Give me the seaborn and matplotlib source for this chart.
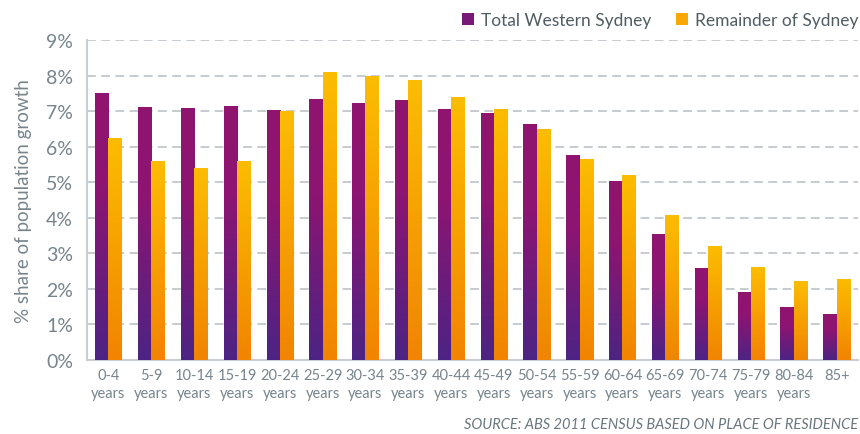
import matplotlib.pyplot as plt
import matplotlib.colors as mcolors
import numpy as np
import pandas as pd
import seaborn as sns
from matplotlib.patches import Patch

AGE_GROUPS = [
    "0-4\nyears", "5-9\nyears", "10-14\nyears", "15-19\nyears", "20-24\nyears",
    "25-29\nyears", "30-34\nyears", "35-39\nyears", "40-44\nyears", "45-49\nyears",
    "50-54\nyears", "55-59\nyears", "60-64\nyears", "65-69\nyears", "70-74\nyears",
    "75-79\nyears", "80-84\nyears", "85+",
]
WESTERN = [7.51, 7.12, 7.09, 7.15, 7.04, 7.35, 7.23, 7.32, 7.06, 6.95,
           6.64, 5.76, 5.03, 3.55, 2.60, 1.92, 1.49, 1.30]
REMAINDER = [6.25, 5.61, 5.41, 5.61, 6.99, 8.10, 7.99, 7.88, 7.40, 7.06,
             6.50, 5.65, 5.20, 4.08, 3.22, 2.62, 2.23, 2.28]
SERIES = ["Total Western Sydney", "Remainder of Sydney"]
Y_TICKS = list(range(0, 10))

GREY_TEXT = "#77848b"
AXIS_GREY = "#c9ced3"

# bottom -> top colour stops for each series
PURPLE_CMAP = mcolors.LinearSegmentedColormap.from_list(
    "purple_grad", [(0.0, "#4c2484"), (0.65, "#8e1472"), (1.0, "#901470")]
)
ORANGE_CMAP = mcolors.LinearSegmentedColormap.from_list(
    "orange_grad", [(0.0, "#f18400"), (1.0, "#fcbd00")]
)

df = pd.DataFrame({
    "age": AGE_GROUPS * 2,
    "share": WESTERN + REMAINDER,
    "series": [SERIES[0]] * len(AGE_GROUPS) + [SERIES[1]] * len(AGE_GROUPS),
})

sns.set_theme(style="white")
plt.rcParams["font.family"] = ["Lato", "DejaVu Sans"]

fig = plt.figure(figsize=(8.6, 4.35), dpi=100)
ax = fig.add_axes([0.1012, 0.1701, 0.8965, 0.7356])

sns.barplot(
    data=df, x="age", y="share", hue="series", hue_order=SERIES,
    palette=["#8e1472", "#fcbd00"], width=0.62, gap=0, saturation=1,
    legend=False, ax=ax, zorder=3,
)

# gradient fills clipped to each bar
grad = np.linspace(0, 1, 256).reshape(-1, 1)
n = len(AGE_GROUPS)
for i, bar in enumerate(ax.patches[: 2 * n]):
    cmap = PURPLE_CMAP if i < n else ORANGE_CMAP
    x0, y0 = bar.get_x(), bar.get_y()
    w, h = bar.get_width(), bar.get_height()
    bar.set_facecolor("none")
    bar.set_edgecolor("none")
    im = ax.imshow(grad, cmap=cmap, origin="lower", aspect="auto",
                   extent=[x0, x0 + w, y0, y0 + h], zorder=3)
    im.set_clip_path(bar)

ax.set_xlim(-0.5, n - 0.5)
ax.set_ylim(0, 9)
ax.set_yticks(Y_TICKS)
ax.set_yticklabels([f"{t}%" for t in Y_TICKS])
for t in Y_TICKS[1:]:
    ax.axhline(t, color="#c6cbd0", lw=1.4, ls=(0, (4.5, 2.8)), zorder=1)

for side in ["top", "right"]:
    ax.spines[side].set_visible(False)
for side in ["left", "bottom"]:
    ax.spines[side].set_color(AXIS_GREY)
    ax.spines[side].set_linewidth(1.5)

ax.tick_params(axis="y", direction="in", length=5, width=1.2, color=AXIS_GREY,
               labelsize=14, labelcolor=GREY_TEXT, pad=10)
ax.tick_params(axis="x", length=0, labelsize=10.5, labelcolor=GREY_TEXT, pad=6)
for lab in ax.get_xticklabels():
    lab.set_verticalalignment("top")
    lab.set_linespacing(1.3)

ax.set_xlabel("")
ax.set_ylabel("% share of population growth", fontsize=13.5, color=GREY_TEXT,
              labelpad=10)

handles = [Patch(facecolor="#7a1a78", edgecolor="none"),
           Patch(facecolor="#f8a800", edgecolor="none")]
fig.legend(handles, SERIES, loc="upper right", bbox_to_anchor=(1.016, 1.005),
           ncol=2, frameon=False, fontsize=12.5, labelcolor="#515c62",
           handlelength=0.7, handleheight=0.7, handletextpad=0.4,
           columnspacing=1.4)

fig.text(0.998, 0.008, "SOURCE: ABS 2011 CENSUS BASED ON PLACE OF RESIDENCE",
         ha="right", va="bottom", fontsize=10.5, style="italic",
         color="#6a767c")

fig.savefig("out.png", dpi=100)
